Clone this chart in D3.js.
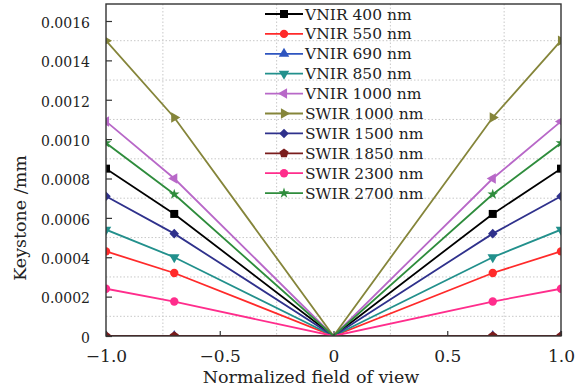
<!DOCTYPE html>
<html>
<head>
<meta charset="utf-8">
<script src="https://cdn.jsdelivr.net/npm/d3@7"></script>
<style>
  html, body { margin: 0; padding: 0; background: #fff; }
  svg text { font-family: "DejaVu Serif", "Liberation Serif", serif; fill: #222; }
</style>
</head>
<body>
<svg id="chart" width="586" height="391"></svg>
<script>
// ---- data ----
const fieldOfView = [-1.0, -0.7, 0, 0.7, 1.0];
const seriesNames = ["VNIR 400 nm", "VNIR 550 nm", "VNIR 690 nm", "VNIR 850 nm", "VNIR 1000 nm",
                     "SWIR 1000 nm", "SWIR 1500 nm", "SWIR 1850 nm", "SWIR 2300 nm", "SWIR 2700 nm"];
const vnir400  = [0.00085, 0.00062, 0, 0.00062, 0.00085];
const vnir550  = [0.00043, 0.00032, 0, 0.00032, 0.00043];
const vnir690  = [0, 0, 0, 0, 0];
const vnir850  = [0.00054, 0.00040, 0, 0.00040, 0.00054];
const vnir1000 = [0.00109, 0.00080, 0, 0.00080, 0.00109];
const swir1000 = [0.00150, 0.00111, 0, 0.00111, 0.00150];
const swir1500 = [0.00071, 0.00052, 0, 0.00052, 0.00071];
const swir1850 = [0, 0, 0, 0, 0];
const swir2300 = [0.00024, 0.000175, 0, 0.000175, 0.00024];
const swir2700 = [0.00098, 0.00072, 0, 0.00072, 0.00098];
const seriesValues = [vnir400, vnir550, vnir690, vnir850, vnir1000, swir1000, swir1500, swir1850, swir2300, swir2700];
const xTicks = [-1.0, -0.5, 0, 0.5, 1.0];
const xTickLabels = ["\u22121.0", "\u22120.5", "0", "0.5", "1.0"];
const yTicks = [0, 0.0002, 0.0004, 0.0006, 0.0008, 0.0010, 0.0012, 0.0014, 0.0016];
const yTickLabels = ["0", "0.0002", "0.0004", "0.0006", "0.0008", "0.0010", "0.0012", "0.0014", "0.0016"];
const xGrid = [-0.75, -0.25, 0.25, 0.75];
const yGrid = [0.0001, 0.0003, 0.0005, 0.0007, 0.0009, 0.0011, 0.0013, 0.0015];

// ---- styles ----
const colors = ["#000000", "#ff2a2a", "#2e55c0", "#22908c", "#b868c8",
                "#85853a", "#2f318c", "#7a1c1c", "#ff2d8c", "#2e8c3c"];
const markers = ["square", "circle", "triUp", "triDown", "triLeft", "triRight", "diamond", "pentagon", "circle", "star"];

const svg = d3.select("#chart");
const L = 106, R = 561, T = 4, B = 336;
const x = d3.scaleLinear().domain([-1, 1]).range([L, R]);
const y = d3.scaleLinear().domain([0, 0.0016]).range([B, 21]);

function markerPath(type, size) {
  const s = size;
  switch (type) {
    case "square": return d3.symbol(d3.symbolSquare, s * s)();
    case "circle": return d3.symbol(d3.symbolCircle, Math.PI * (s / 2) * (s / 2) * 1.1)();
    case "triUp": return d3.symbol(d3.symbolTriangle, s * s * 0.75)();
    case "triDown": return d3.symbol(d3.symbolTriangle, s * s * 0.75)();
    case "triLeft": return d3.symbol(d3.symbolTriangle, s * s * 0.75)();
    case "triRight": return d3.symbol(d3.symbolTriangle, s * s * 0.75)();
    case "diamond": return d3.symbol(d3.symbolDiamond2, s * s * 0.9)();
    case "star": return d3.symbol(d3.symbolStar, s * s * 0.55)();
    case "pentagon": {
      const r = s * 0.6, pts = [];
      for (let i = 0; i < 5; i++) {
        const a = -Math.PI / 2 + i * 2 * Math.PI / 5;
        pts.push([r * Math.cos(a), r * Math.sin(a)]);
      }
      return "M" + pts.map(p => p.join(",")).join("L") + "Z";
    }
  }
}
function markerRotate(type) {
  return { triDown: 180, triLeft: -90, triRight: 90 }[type] || 0;
}

// clip
svg.append("defs").append("clipPath").attr("id", "plotclip")
  .append("rect").attr("x", L).attr("y", T).attr("width", R - L).attr("height", B - T);

// grid
const grid = svg.append("g");
grid.selectAll(".gx").data(xGrid).join("line")
  .attr("x1", d => x(d)).attr("x2", d => x(d)).attr("y1", T).attr("y2", B)
  .attr("stroke", "#c8c8c8").attr("stroke-width", 1).attr("stroke-dasharray", "1.5,2");
grid.selectAll(".gy").data(yGrid).join("line")
  .attr("x1", L).attr("x2", R).attr("y1", d => y(d)).attr("y2", d => y(d))
  .attr("stroke", "#c8c8c8").attr("stroke-width", 1).attr("stroke-dasharray", "1.5,2");

// series
const plot = svg.append("g").attr("clip-path", "url(#plotclip)");
const line = d3.line().x(d => x(d[0])).y(d => y(d[1]));
seriesValues.forEach((vals, i) => {
  const pts = fieldOfView.map((fx, j) => [fx, vals[j]]);
  plot.append("path").datum(pts).attr("d", line)
    .attr("fill", "none").attr("stroke", colors[i]).attr("stroke-width", 1.8);
  plot.selectAll(null).data(pts.filter(p => p[0] !== 0)).join("path")
    .attr("d", markerPath(markers[i], 8))
    .attr("transform", p => `translate(${x(p[0])},${y(p[1])}) rotate(${markerRotate(markers[i])})`)
    .attr("fill", colors[i]);
});

// frame
svg.append("rect").attr("x", L).attr("y", T).attr("width", R - L).attr("height", B - T)
  .attr("fill", "none").attr("stroke", "#333").attr("stroke-width", 1.4);

// x axis (ticks inward)
const xAxis = d3.axisBottom(x).tickValues(xTicks).tickSize(-5).tickPadding(14)
  .tickFormat((d, i) => xTickLabels[i]);
const gx = svg.append("g").attr("transform", `translate(0,${B})`).call(xAxis);
gx.select(".domain").remove();
gx.selectAll(".tick line").attr("stroke", "#333").attr("stroke-width", 1.2);
gx.selectAll(".tick text").attr("font-size", 17).attr("font-family", "DejaVu Serif").attr("fill", "#222");

// y axis (ticks inward)
const yAxis = d3.axisLeft(y).tickValues(yTicks).tickSize(-6).tickPadding(16)
  .tickFormat((d, i) => yTickLabels[i]);
const gy = svg.append("g").attr("transform", `translate(${L},0)`).call(yAxis);
gy.select(".domain").remove();
gy.selectAll(".tick line").attr("stroke", "#333").attr("stroke-width", 1.2);
gy.selectAll(".tick text").attr("font-size", 14).attr("font-family", "DejaVu Serif").attr("fill", "#222")
  .attr("dy", "0.45em");

// axis titles
svg.append("text").attr("x", 311).attr("y", 383).attr("text-anchor", "middle")
  .attr("font-size", 17.5).text("Normalized field of view");
svg.append("text").attr("transform", "translate(26,218) rotate(-90)").attr("text-anchor", "middle")
  .attr("font-size", 17.5).text("Keystone /mm");

// legend
const leg = svg.append("g");
seriesNames.forEach((name, i) => {
  const yy = 14 + i * 19.9;
  leg.append("line").attr("x1", 265).attr("x2", 303).attr("y1", yy).attr("y2", yy)
    .attr("stroke", colors[i]).attr("stroke-width", 1.8);
  leg.append("path").attr("d", markerPath(markers[i], 8))
    .attr("transform", `translate(284,${yy}) rotate(${markerRotate(markers[i])})`)
    .attr("fill", colors[i]);
  leg.append("text").attr("x", 305).attr("y", yy).attr("dy", "0.36em")
    .attr("font-size", 15.5).text(name);
});
</script>
</body>
</html>
